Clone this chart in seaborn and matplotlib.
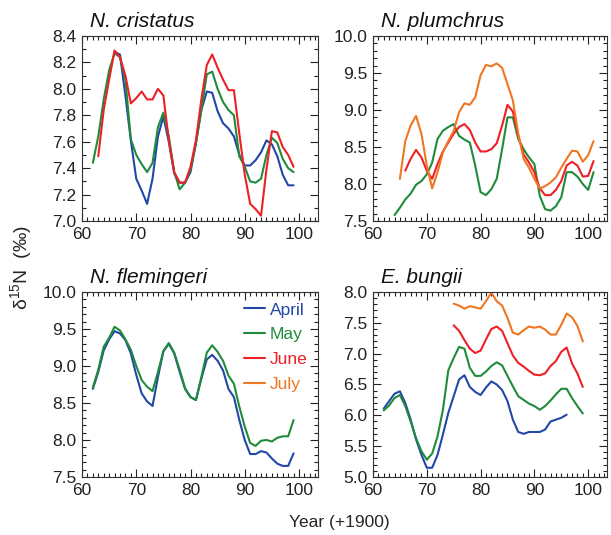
import numpy as np
import pandas as pd
import matplotlib
matplotlib.use("Agg")
import matplotlib.pyplot as plt
from matplotlib.ticker import MultipleLocator
from matplotlib.lines import Line2D
import seaborn as sns

sns.set_style("ticks")
plt.rcParams['font.family'] = ['Liberation Sans', 'DejaVu Sans']

months = ["April", "May", "June", "July"]
colors = {"April": "#2148a8", "May": "#1f8b3b", "June": "#ee2026", "July": "#f07622"}

# ---- N. cristatus ----
cri_apr_years = list(range(66, 100))
cri_apr = [8.28, 8.26, 7.95, 7.61, 7.32, 7.23, 7.13, 7.32, 7.64, 7.79, 7.60, 7.36, 7.29, 7.29,
           7.37, 7.59, 7.84, 7.98, 7.97, 7.83, 7.74, 7.70, 7.64, 7.50, 7.42, 7.42, 7.46, 7.52,
           7.61, 7.58, 7.49, 7.35, 7.27, 7.27]
cri_may_years = list(range(62, 100))
cri_may = [7.44, 7.64, 7.92, 8.14, 8.27, 8.24, 8.07, 7.62, 7.50, 7.43, 7.37, 7.44, 7.71, 7.82,
           7.64, 7.37, 7.24, 7.29, 7.39, 7.59, 7.84, 8.11, 8.13, 8.00, 7.90, 7.84, 7.80, 7.49,
           7.41, 7.30, 7.29, 7.32, 7.50, 7.63, 7.59, 7.47, 7.40, 7.37]
cri_jun_years = list(range(63, 100))
cri_jun = [7.49, 7.84, 8.07, 8.29, 8.24, 8.10, 7.89, 7.93, 7.98, 7.92, 7.92, 8.00, 7.95, 7.61,
           7.37, 7.29, 7.29, 7.41, 7.61, 7.92, 8.18, 8.26, 8.16, 8.07, 7.99, 7.99, 7.66, 7.35,
           7.13, 7.09, 7.04, 7.39, 7.68, 7.67, 7.56, 7.50, 7.41]

# ---- N. plumchrus ----
plu_may_years = list(range(64, 102))
plu_may = [7.58, 7.68, 7.79, 7.87, 7.99, 8.04, 8.13, 8.29, 8.61, 8.72, 8.77, 8.81, 8.65, 8.60,
           8.56, 8.25, 7.89, 7.85, 7.93, 8.07, 8.47, 8.90, 8.90, 8.61, 8.47, 8.36, 8.27, 7.84,
           7.66, 7.64, 7.70, 7.82, 8.16, 8.16, 8.10, 8.00, 7.92, 8.16]
plu_jun_years = list(range(66, 102))
plu_jun = [8.18, 8.34, 8.46, 8.36, 8.18, 8.07, 8.27, 8.44, 8.56, 8.68, 8.77, 8.81, 8.73, 8.56,
           8.44, 8.44, 8.47, 8.55, 8.79, 9.07, 8.98, 8.65, 8.40, 8.29, 8.16, 7.94, 7.85, 7.85,
           7.92, 8.04, 8.25, 8.30, 8.25, 8.10, 8.11, 8.31]
plu_jul_years = list(range(65, 102))
plu_jul = [8.07, 8.58, 8.79, 8.92, 8.68, 8.25, 7.94, 8.16, 8.43, 8.58, 8.72, 8.97, 9.09, 9.07,
           9.17, 9.47, 9.61, 9.59, 9.63, 9.57, 9.35, 9.13, 8.68, 8.34, 8.22, 8.07, 7.94, 7.97,
           8.02, 8.09, 8.22, 8.34, 8.45, 8.44, 8.30, 8.39, 8.58]

# ---- N. flemingeri ----
fle_years = list(range(62, 100))
fle_apr = [8.69, 8.92, 9.21, 9.36, 9.47, 9.44, 9.35, 9.17, 8.88, 8.63, 8.52, 8.46, 8.85, 9.20,
           9.30, 9.17, 8.92, 8.69, 8.58, 8.54, 8.83, 9.09, 9.15, 9.07, 8.94, 8.69, 8.58, 8.27,
           8.00, 7.81, 7.81, 7.85, 7.83, 7.75, 7.68, 7.65, 7.65, 7.82]
fle_may = [8.71, 8.95, 9.26, 9.38, 9.53, 9.48, 9.36, 9.22, 9.00, 8.81, 8.72, 8.66, 8.92, 9.20,
           9.31, 9.18, 8.95, 8.70, 8.58, 8.54, 8.85, 9.18, 9.28, 9.19, 9.07, 8.87, 8.76, 8.45,
           8.18, 7.96, 7.92, 7.99, 8.00, 7.98, 8.03, 8.05, 8.05, 8.27]

# ---- E. bungii ----
bun_apr_years = list(range(62, 97))
bun_apr = [6.11, 6.23, 6.35, 6.39, 6.20, 5.93, 5.61, 5.36, 5.15, 5.15, 5.36, 5.69, 6.04, 6.31,
           6.58, 6.65, 6.46, 6.38, 6.33, 6.45, 6.55, 6.50, 6.41, 6.23, 5.93, 5.73, 5.70, 5.73,
           5.73, 5.73, 5.77, 5.90, 5.93, 5.96, 6.01]
bun_may_years = list(range(62, 100))
bun_may = [6.08, 6.16, 6.28, 6.33, 6.15, 5.90, 5.63, 5.42, 5.28, 5.38, 5.66, 6.09, 6.73, 6.93,
           7.11, 7.08, 6.77, 6.64, 6.64, 6.71, 6.80, 6.86, 6.81, 6.64, 6.47, 6.31, 6.25, 6.19,
           6.15, 6.09, 6.15, 6.24, 6.34, 6.43, 6.43, 6.28, 6.15, 6.03]
bun_jun_years = list(range(75, 100))
bun_jun = [7.46, 7.37, 7.22, 7.08, 7.01, 7.05, 7.23, 7.40, 7.44, 7.37, 7.17, 6.97, 6.85, 6.79,
           6.72, 6.66, 6.65, 6.68, 6.80, 6.88, 7.03, 7.10, 6.84, 6.68, 6.46]
bun_jul_years = list(range(75, 100))
bun_jul = [7.81, 7.78, 7.73, 7.77, 7.75, 7.73, 7.85, 7.99, 7.85, 7.78, 7.58, 7.34, 7.31, 7.38,
           7.44, 7.42, 7.44, 7.39, 7.31, 7.31, 7.47, 7.65, 7.59, 7.45, 7.20]

panels = [
    ("N. cristatus", [("April", cri_apr_years, cri_apr), ("May", cri_may_years, cri_may),
                      ("June", cri_jun_years, cri_jun)], (7.0, 8.4), 0.2, 0.1),
    ("N. plumchrus", [("May", plu_may_years, plu_may), ("June", plu_jun_years, plu_jun),
                      ("July", plu_jul_years, plu_jul)], (7.5, 10.0), 0.5, 0.1),
    ("N. flemingeri", [("April", fle_years, fle_apr), ("May", fle_years, fle_may)],
     (7.5, 10.0), 0.5, 0.1),
    ("E. bungii", [("April", bun_apr_years, bun_apr), ("May", bun_may_years, bun_may),
                   ("June", bun_jun_years, bun_jun), ("July", bun_jul_years, bun_jul)],
     (5.0, 8.0), 0.5, 0.1),
]

W, H = 611, 535
fig = plt.figure(figsize=(W / 100, H / 100), dpi=100)
boxes = [(82, 36, 318, 221), (373, 36, 607, 221), (82, 292, 318, 477), (373, 292, 607, 477)]

for (title, series, ylim, major, minor), (x0, y0, x1, y1) in zip(panels, boxes):
    ax = fig.add_axes([x0 / W, 1 - y1 / H, (x1 - x0) / W, (y1 - y0) / H])
    recs = []
    for m, yrs, vals in series:
        for yr, v in zip(yrs, vals):
            recs.append({"year": yr, "value": v, "month": m})
    df = pd.DataFrame(recs)
    hue_order = [m for m, _, _ in series]
    sns.lineplot(data=df, x="year", y="value", hue="month", hue_order=hue_order,
                 palette=colors, estimator=None, linewidth=1.5, ax=ax, legend=False)
    ax.set_xlim(60, 103.5)
    ax.set_ylim(*ylim)
    ax.xaxis.set_major_locator(MultipleLocator(10))
    ax.xaxis.set_minor_locator(MultipleLocator(1))
    ax.yaxis.set_major_locator(MultipleLocator(major))
    ax.yaxis.set_minor_locator(MultipleLocator(minor))
    ax.yaxis.set_major_formatter(matplotlib.ticker.FormatStrFormatter('%.1f'))
    ax.tick_params(which='both', direction='in', top=True, right=True, labelsize=12.5,
                   colors='#222222', labelcolor='#222222')
    ax.tick_params(which='major', length=6, width=0.8, pad=4)
    ax.tick_params(which='minor', length=3, width=0.8)
    for s in ax.spines.values():
        s.set_linewidth(0.8)
        s.set_color('#333333')
    ax.set_xlabel("")
    ax.set_ylabel("")
    ax.text(0.035, 1.025, title, transform=ax.transAxes, fontsize=15, style='italic',
            ha='left', va='bottom', color='#111111')
    if title == "N. flemingeri":
        handles = [Line2D([], [], color=colors[m], lw=1.5) for m in months]
        leg = ax.legend(handles, months, loc='upper right', frameon=False, fontsize=12.5,
                        handlelength=1.2, handletextpad=0.3, labelspacing=0.55,
                        borderaxespad=0.2, labelcolor='linecolor')

fig.text(0.035, 0.5, 'δ$^{\\mathregular{15}}$N  (‰)', rotation=90, ha='center', va='center',
         fontsize=14)
fig.text(339 / W, 1 - 523 / H, "Year (+1900)", ha='center', va='center', fontsize=12.5)

fig.savefig("out.png", dpi=100)
